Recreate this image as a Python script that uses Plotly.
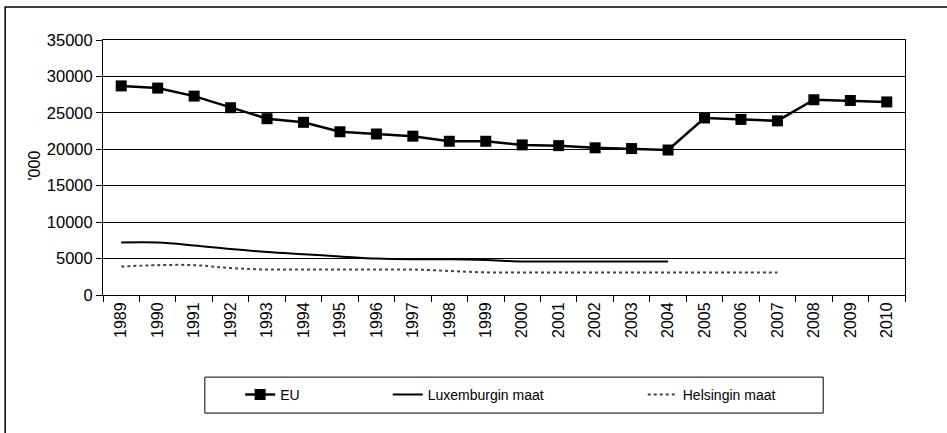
import plotly.graph_objects as go

years = [str(y) for y in range(1989, 2011)]
eu = [28700, 28400, 27300, 25700, 24200, 23700, 22400, 22100, 21800, 21100, 21100,
      20600, 20500, 20200, 20100, 19900, 24300, 24100, 23900, 26800, 26700, 26500]
lux_years = years[:16]
luxembourg = [7200, 7200, 6800, 6300, 5900, 5600, 5300, 5000, 4900, 4900, 4800,
              4600, 4600, 4600, 4600, 4600]
hel_years = years[:19]
helsinki = [3900, 4100, 4100, 3700, 3500, 3500, 3500, 3500, 3500, 3300, 3100,
            3100, 3100, 3100, 3100, 3100, 3100, 3100, 3100]
y_ticks = list(range(0, 35001, 5000))

FONT = "Liberation Sans, Arial, sans-serif"

fig = go.Figure()
fig.add_scatter(
    x=years, y=eu, name="EU", mode="lines+markers", legend="legend",
    line=dict(color="black", width=2.5),
    marker=dict(symbol="square", size=11, color="black"),
)
fig.add_scatter(
    x=lux_years, y=luxembourg, name="Luxemburgin maat", mode="lines", legend="legend2",
    line=dict(color="black", width=2, shape="spline"),
)
fig.add_scatter(
    x=hel_years, y=helsinki, name="Helsingin maat", mode="lines", legend="legend3",
    line=dict(color="#444444", width=2, dash="dot", shape="spline"),
)

leg = dict(orientation="h", yanchor="middle", y=-0.392, xanchor="left",
           borderwidth=0, bgcolor="rgba(0,0,0,0)", font=dict(size=14))

fig.update_layout(
    width=947, height=433,
    margin=dict(l=103, r=42, t=40, b=138),
    paper_bgcolor="white", plot_bgcolor="white",
    font=dict(family=FONT, color="black"),
    showlegend=True,
    legend=dict(leg, x=0.171),
    legend2=dict(leg, x=0.355),
    legend3=dict(leg, x=0.673),
    xaxis=dict(
        type="category", range=[-0.5, len(years) - 0.5], tickson="boundaries",
        ticks="outside", ticklen=6,
        tickcolor="black", tickangle=-90, tickfont=dict(size=16),
        showline=True, linecolor="black", mirror=True, showgrid=False,
    ),
    yaxis=dict(
        range=[0, 35000], tickvals=y_ticks, tickformat="d", ticks="outside", ticklen=6,
        tickcolor="black", tickfont=dict(size=16.5),
        showline=True, linecolor="black", mirror=True,
        showgrid=True, gridcolor="black", gridwidth=1, zeroline=False,
    ),
    annotations=[dict(
        text="'000", xref="paper", yref="paper", x=-0.0985, y=0.506,
        textangle=-90, showarrow=False, font=dict(size=16),
    )],
    shapes=[
        # outer frame of the chart (right and bottom fall outside the window)
        dict(type="rect", xref="paper", yref="paper",
             x0=-0.122, x1=1.06, y0=-0.6, y1=1.129,
             line=dict(color="black", width=1.5)),
        # legend box
        dict(type="rect", xref="paper", yref="paper",
             x0=0.127, x1=0.898, y0=-0.463, y1=-0.322,
             line=dict(color="black", width=1)),
    ],
)

fig.write_html("out.html", config={"displayModeBar": False},
               post_script="document.body.style.margin = '0';")
